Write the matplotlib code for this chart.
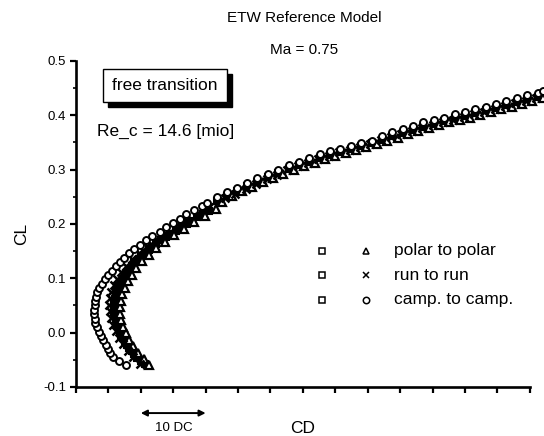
import matplotlib

matplotlib.use("Agg")
import matplotlib.pyplot as plt
from matplotlib.patches import Rectangle

plt.rcParams["font.family"] = ["Liberation Sans", "DejaVu Sans"]

# CD in drag counts (relative to an arbitrary origin), CL
sq_cd = [10.6, 10.0, 9.4, 9.0, 8.6, 8.2, 7.8, 7.5, 7.2, 7.0, 6.8, 6.6, 6.4, 6.3, 6.1, 6.0,
         5.9, 5.8, 5.8, 5.9, 6.0, 6.1, 6.2, 6.4, 6.6, 6.9, 7.2, 7.5, 7.8, 8.2, 8.6, 9.0,
         9.5, 10.0, 10.6, 11.2, 11.8, 12.4, 13.1, 13.9, 14.7, 15.5, 16.3, 17.1, 17.9, 18.6,
         19.6, 20.5, 21.7, 23.3, 24.9, 26.4, 28.0, 29.6, 31.2, 32.8, 34.4, 36.0, 37.6, 39.2,
         40.8, 42.4, 44.0, 45.6, 47.2, 48.8, 50.4, 52.0, 53.6, 55.2, 56.8, 58.4, 60.0, 61.6,
         63.2, 64.8, 66.4, 68.0, 69.6, 71.2]
sq_cl = [-0.058, -0.052, -0.046, -0.040, -0.034, -0.028, -0.022, -0.016, -0.010, -0.004,
         0.002, 0.008, 0.014, 0.020, 0.026, 0.032, 0.038, 0.044, 0.050, 0.056, 0.062, 0.068,
         0.074, 0.080, 0.086, 0.092, 0.098, 0.104, 0.110, 0.116, 0.122, 0.128, 0.134, 0.140,
         0.146, 0.152, 0.158, 0.164, 0.170, 0.176, 0.182, 0.188, 0.194, 0.200, 0.206, 0.212,
         0.218, 0.224, 0.243, 0.252, 0.261, 0.270, 0.278, 0.286, 0.294, 0.301, 0.308, 0.315,
         0.321, 0.327, 0.333, 0.338, 0.344, 0.349, 0.355, 0.362, 0.367, 0.373, 0.379, 0.384,
         0.389, 0.395, 0.399, 0.404, 0.409, 0.414, 0.419, 0.425, 0.430, 0.434]

tri_cd = [11.3, 10.5, 9.6, 8.8, 8.2, 7.7, 7.3, 7.0, 6.8, 6.8, 6.9, 7.1, 7.5, 8.0, 8.6, 9.3,
          10.2, 11.2, 12.4, 13.7, 15.1, 16.6, 18.2, 19.9, 21.6, 22.5, 24.0, 25.6, 27.2, 28.8,
          30.4, 32.0, 33.6, 35.2, 36.8, 38.4, 40.0, 41.6, 43.2, 44.8, 46.4, 48.0, 49.6, 51.2,
          52.8, 54.4, 56.0, 57.6, 59.2, 60.8, 62.4, 64.0, 65.6, 67.2, 68.8, 70.4, 72.0]
tri_cl = [-0.060, -0.049, -0.037, -0.025, -0.013, -0.001, 0.011, 0.023, 0.035, 0.047, 0.059,
          0.071, 0.083, 0.095, 0.107, 0.119, 0.131, 0.143, 0.155, 0.167, 0.179, 0.191, 0.203,
          0.215, 0.227, 0.241, 0.252, 0.260, 0.269, 0.277, 0.285, 0.292, 0.299, 0.306, 0.313,
          0.319, 0.325, 0.330, 0.336, 0.341, 0.347, 0.353, 0.359, 0.365, 0.371, 0.376, 0.382,
          0.387, 0.392, 0.396, 0.401, 0.406, 0.411, 0.416, 0.421, 0.427, 0.431]

x_cd = [9.9, 8.8, 8.0, 7.2, 6.6, 6.1, 5.7, 5.4, 5.2, 5.1, 5.2, 5.4, 5.8, 6.3, 6.9, 7.7, 8.6,
        9.7, 10.9, 12.2, 13.7, 15.3, 17.0, 18.7, 20.5, 23.0, 24.6, 26.2, 27.8, 29.4, 31.0,
        32.6, 34.2, 35.8, 37.4, 39.0, 40.6, 42.2, 43.8, 45.4, 47.0, 48.6, 50.2, 51.8, 53.4,
        55.0, 56.6, 58.2, 59.8, 61.4, 63.0, 64.6, 66.2, 67.8, 69.4, 71.0]
x_cl = [-0.057, -0.045, -0.033, -0.021, -0.009, 0.003, 0.015, 0.027, 0.039, 0.051, 0.063,
        0.075, 0.087, 0.099, 0.111, 0.123, 0.135, 0.147, 0.159, 0.171, 0.183, 0.195, 0.207,
        0.219, 0.231, 0.247, 0.256, 0.265, 0.274, 0.283, 0.291, 0.299, 0.306, 0.313, 0.320,
        0.326, 0.332, 0.337, 0.342, 0.348, 0.354, 0.360, 0.366, 0.371, 0.377, 0.382, 0.387,
        0.392, 0.397, 0.402, 0.407, 0.412, 0.417, 0.422, 0.427, 0.432]

circ_cd = [7.7, 6.6, 5.7, 5.3, 5.0, 4.6, 4.2, 3.9, 3.5, 3.2, 3.0, 2.9, 2.8, 2.8, 2.9, 2.9,
           3.1, 3.3, 3.6, 4.0, 4.5, 5.0, 5.5, 6.1, 6.8, 7.4, 8.1, 8.9, 9.9, 10.8, 11.8, 12.9,
           13.9, 15.0, 16.0, 16.9, 18.2, 19.4, 20.2, 21.7, 23.3, 24.9, 26.4, 28.0, 29.6, 31.2,
           32.8, 34.4, 36.0, 37.6, 39.2, 40.8, 42.4, 44.0, 45.6, 47.2, 48.8, 50.4, 52.0, 53.6,
           55.2, 56.8, 58.4, 60.0, 61.6, 63.2, 64.8, 66.4, 68.0, 69.6, 71.2, 72.0]
circ_cl = [-0.060, -0.052, -0.045, -0.038, -0.030, -0.022, -0.014, -0.006, 0.002, 0.010,
           0.018, 0.026, 0.034, 0.042, 0.050, 0.058, 0.066, 0.074, 0.082, 0.090, 0.098, 0.106,
           0.114, 0.122, 0.130, 0.138, 0.146, 0.154, 0.162, 0.170, 0.178, 0.186, 0.194, 0.202,
           0.210, 0.218, 0.226, 0.234, 0.239, 0.250, 0.259, 0.267, 0.276, 0.285, 0.292, 0.300,
           0.308, 0.314, 0.321, 0.329, 0.334, 0.338, 0.344, 0.349, 0.353, 0.362, 0.370, 0.374,
           0.380, 0.387, 0.391, 0.396, 0.402, 0.407, 0.411, 0.415, 0.421, 0.427, 0.432, 0.437,
           0.441, 0.445]

legend_labels = ["polar to polar", "run to run", "camp. to camp."]
legend_markers = ["^", "x", "o"]
y_ticks = [-0.1, 0.0, 0.1, 0.2, 0.3, 0.4, 0.5]

fig = plt.figure(figsize=(5.44, 4.36), dpi=100)
ax = fig.add_axes([0.1397, 0.1124, 0.8603, 0.7477])

# reference points: densely overlapping, they print as a solid black ribbon
ax.plot(sq_cd, sq_cl, marker="s", markersize=5.0, markeredgewidth=1.5, linestyle="none",
        markerfacecolor="black", markeredgecolor="black", clip_on=False)
mk = dict(linestyle="none", markerfacecolor="white", markeredgecolor="black",
          clip_on=False)
ax.plot(tri_cd, tri_cl, marker="^", markersize=5.2, markeredgewidth=1.6, **mk)
ax.plot(x_cd, x_cl, marker="x", markersize=5.2, markeredgewidth=1.8, color="black",
        linestyle="none", clip_on=False)
ax.plot(circ_cd, circ_cl, marker="o", markersize=5.0, markeredgewidth=1.4, **mk)

ax.set_xlim(0, 72.2)
ax.set_ylim(-0.1, 0.5)
for s in ("top", "right"):
    ax.spines[s].set_visible(False)
for s in ("left", "bottom"):
    ax.spines[s].set_linewidth(1.9)
ax.spines["bottom"].set_bounds(0, 70)

ax.set_xticks(range(0, 71, 5))
ax.set_xticklabels([])
ax.set_yticks(y_ticks)
ax.set_yticklabels([f"{v:.1f}" for v in y_ticks], fontsize=9.5)
ax.set_yticks([-0.05, 0.05, 0.15, 0.25, 0.35, 0.45], minor=True)
ax.tick_params(axis="both", which="major", direction="out", length=4, width=1.6, pad=3)
ax.tick_params(axis="y", which="minor", direction="out", length=2.5, width=1.2)

fig.text(22 / 544, 1 - 234 / 436, "CL", fontsize=12.5, rotation=90,
         ha="center", va="center")
fig.text(303 / 544, 1 - 428 / 436, "CD", fontsize=12.5, ha="center", va="center")
fig.text(174 / 544, 1 - 428 / 436, "10 DC", fontsize=9.5, ha="center", va="center")
ax.annotate("", xy=(10, -0.148), xytext=(20, -0.148), xycoords="data",
            arrowprops=dict(arrowstyle="<|-|>", color="black", lw=1.4,
                            mutation_scale=9, shrinkA=0, shrinkB=0),
            annotation_clip=False)

fig.text(304 / 544, 1 - 18 / 436, "ETW Reference Model", fontsize=11,
         ha="center", va="center")
fig.text(304 / 544, 1 - 50 / 436, "Ma = 0.75", fontsize=11, ha="center", va="center")

# boxed label with drop shadow (box in axes fraction)
bx0, by0, bw, bh = (103 - 76) / 468, (387 - 102) / 326, 124 / 468, 33 / 326
sh_dx, sh_dy = 5 / 468, 5 / 326
ax.add_patch(Rectangle((bx0 + sh_dx, by0 - sh_dy), bw, bh, transform=ax.transAxes,
                       facecolor="black", edgecolor="black", clip_on=False))
ax.add_patch(Rectangle((bx0, by0), bw, bh, transform=ax.transAxes, facecolor="white",
                       edgecolor="black", linewidth=1.0, clip_on=False))
ax.text(bx0 + bw / 2, by0 + bh / 2, "free transition", transform=ax.transAxes,
        fontsize=12.5, ha="center", va="center")
ax.text((166 - 76) / 468, (387 - 131) / 326, "Re_c = 14.6 [mio]", transform=ax.transAxes,
        fontsize=12.5, ha="center", va="center")

# legend drawn by hand
for i, (lab, m) in enumerate(zip(legend_labels, legend_markers)):
    yy = (387 - (251 + i * 24.5)) / 326
    ax.plot((322 - 76) / 468, yy, marker="s", markersize=4.2, markerfacecolor="white",
            markeredgecolor="black", markeredgewidth=1.1, transform=ax.transAxes)
    if m == "x":
        ax.plot((366 - 76) / 468, yy, marker="x", markersize=5, color="black",
                markeredgewidth=1.1, transform=ax.transAxes)
    else:
        ax.plot((366 - 76) / 468, yy, marker=m, markersize=4.6, markerfacecolor="white",
                markeredgecolor="black", markeredgewidth=1.1, transform=ax.transAxes)
    ax.text((394 - 76) / 468, yy, lab, transform=ax.transAxes, fontsize=12.5,
            ha="left", va="center")

fig.savefig("out.png", dpi=100)
